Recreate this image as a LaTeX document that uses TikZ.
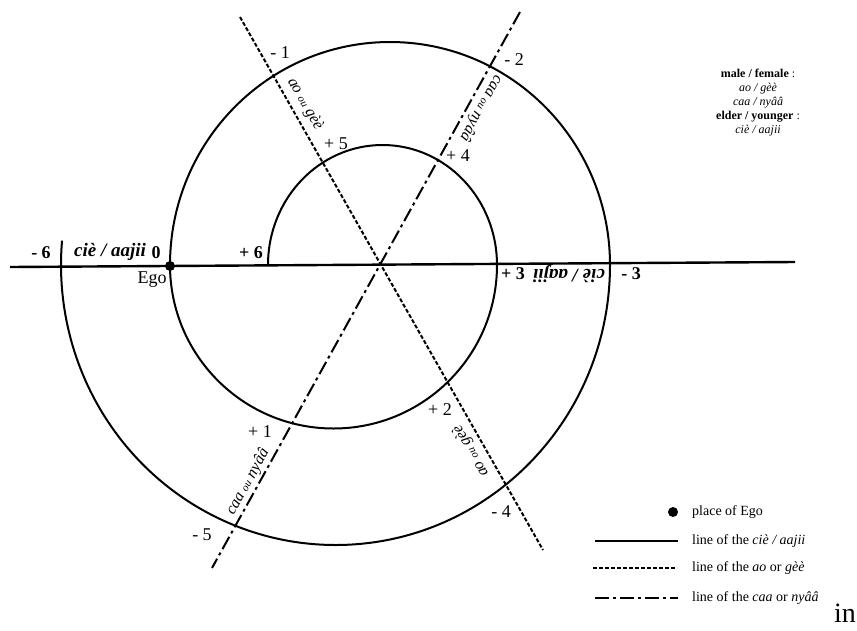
\documentclass[tikz,border=0pt]{standalone}
\usepackage{fontspec}
\setmainfont{Liberation Serif}
\usepackage{tikz}
\newcommand{\fsz}[1]{\fontsize{#1}{#1}\selectfont}
\tikzset{
  cieline/.style={line width=2.4pt},
  aoline/.style={line width=2pt,dash pattern=on 4pt off 2pt},
  caaline/.style={line width=2pt,dash pattern=on 14pt off 4pt on 3pt off 4pt},
  spiral/.style={line width=2pt},
  numlab/.style={font=\fsz{18},inner sep=0pt},
  biglab/.style={font=\fsz{18}\bfseries,inner sep=0pt},
  rotlab/.style={font=\fsz{16}\itshape,inner sep=0pt},
  legtext/.style={font=\fsz{14},anchor=west,inner sep=0pt}
}
\begin{document}
\begin{tikzpicture}[x=1pt,y=-1pt]
\useasboundingbox (0,0) rectangle (857,630);
% ---- lines through the centre ----
\coordinate (cie-a) at (10,267); \coordinate (cie-b) at (795,262);
\coordinate (ao-a) at (240,17); \coordinate (ao-b) at (543,550);
\coordinate (caa-a) at (520,12); \coordinate (caa-b) at (212,568);
\draw[cieline] (cie-a) -- (cie-b);
\draw[aoline] (ao-a) -- (ao-b);
\draw[caaline] (caa-a) -- (caa-b);
% ---- spiral from +6 out to -6 ----
\draw[spiral] (268,265) arc[start angle=180,end angle=360,x radius=114.5,y radius=120]
  arc[start angle=0,end angle=180,radius=163.5]
  arc[start angle=180,end angle=360,x radius=220,y radius=223]
  arc[start angle=0,end angle=185,x radius=274.5,y radius=280];
\fill (170,266) circle (5) coordinate (ego);
% ---- labels on the horizontal line ----
\node[biglab] (m6) at (41,253) {- 6};
\node[biglab,font=\fsz{19}\bfseries\itshape] (cie-l) at (110,252) {ciè / aajii};
\node[biglab] (n0) at (156,253) {0};
\node[biglab] (p6) at (251,253) {+ 6};
\node[font=\fsz{18},inner sep=0pt] (egolab) at (152,280) {Ego};
\node[biglab] (p3) at (513,274) {+ 3};
\node[biglab,font=\fsz{19}\bfseries\itshape,rotate=180] (cie-r) at (569,274) {ciè / aajii};
\node[biglab] (m3) at (631,274) {- 3};
% ---- numbers on the spiral ----
\node[numlab] (m1) at (280,53) {- 1};
\node[numlab] (m2) at (514,60) {- 2};
\node[numlab] (p5) at (336,144) {+ 5};
\node[numlab] (p4) at (458,156) {+ 4};
\node[numlab] (p2) at (440,410) {+ 2};
\node[numlab] (p1) at (260,432) {+ 1};
\node[numlab] (m4) at (501,512) {- 4};
\node[numlab] (m5) at (202,535) {- 5};
% ---- names along the oblique lines ----
\node[rotlab,rotate=-60.4] (ao-t) at (305,104) {ao {\fsz{11}ou} gèè};
\node[rotlab,rotate=119.6] (ao-d) at (471,451) {ao {\fsz{11}ou} gèè};
\node[rotlab,rotate=-119] (caa-t) at (481,108) {caa {\fsz{11}ou} nyââ};
\node[rotlab,rotate=61] (caa-d) at (248,482) {caa {\fsz{11}ou} nyââ};
% ---- key, top right ----
\node[font=\fsz{12},align=center,inner sep=0pt] (key) at (758,103)
  {\textbf{male / female} :\\[2pt]\textit{ao / gèè}\\[2pt]\textit{caa / nyââ}\\[2pt]\textbf{elder / younger} :\\[2pt]\textit{ciè / aajii}};
% ---- key, bottom right ----
\fill (673,512) circle (5) coordinate (k-dot);
\node[legtext] (k1) at (692,512) {place of Ego};
\coordinate (k2a) at (595,541); \coordinate (k2b) at (678,541);
\coordinate (k3a) at (593,568); \coordinate (k3b) at (677,568);
\coordinate (k4a) at (595,598); \coordinate (k4b) at (678,598);
\draw[cieline,line width=2pt] (k2a) -- (k2b);
\draw[aoline] (k3a) -- (k3b);
\draw[caaline] (k4a) -- (k4b);
\node[legtext] (k2) at (692,541) {line of the \textit{ciè / aajii}};
\node[legtext] (k3) at (692,568) {line of the \textit{ao} or \textit{gèè}};
\node[legtext] (k4) at (692,598) {line of the \textit{caa} or \textit{nyââ}};
\node[font=\fsz{28},inner sep=0pt] (inword) at (845,613) {in};
\end{tikzpicture}
\end{document}
